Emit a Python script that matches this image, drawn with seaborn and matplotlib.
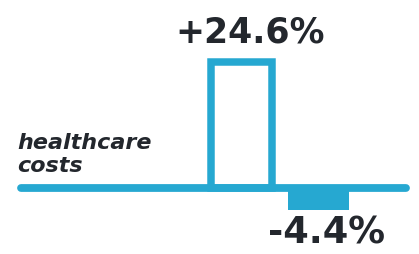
import matplotlib
matplotlib.use("Agg")
import matplotlib.pyplot as plt
import seaborn as sns
import pandas as pd

categories = ["increase", "decrease"]
values = [24.6, -4.4]
labels = ["+24.6%", "-4.4%"]
row_label = "healthcare\ncosts"

BLUE = "#26a8d1"
DARK = "#23272d"

sns.set_theme(style="white")
plt.rcParams["font.family"] = ["DejaVu Sans"]

fig = plt.figure(figsize=(4.19, 2.55), dpi=100)
ax = fig.add_axes([0, 0, 1, 1])

df = pd.DataFrame({"cat": categories, "val": values})
sns.barplot(data=df, x="cat", y="val", color=BLUE, width=0.78, ax=ax,
            saturation=1, errorbar=None)

# style bars: first outlined, second filled
p0, p1 = ax.patches[0], ax.patches[1]
p0.set_facecolor("white")
p0.set_edgecolor(BLUE)
p0.set_linewidth(5.4)
p0.set_joinstyle("miter")
p1.set_facecolor(BLUE)
p1.set_edgecolor("none")

ax.set_xlim(-3.136, 2.305)
ax.set_ylim(-13.0, 37.0)

# baseline
ax.axhline(0, xmin=0.049, xmax=0.970, color=BLUE, lw=5.6,
           solid_capstyle="round", zorder=5)

# value labels
ax.annotate(labels[0], xy=(0, values[0]), xytext=(6, 15),
            textcoords="offset points", ha="center", va="baseline",
            fontsize=25, fontweight="bold", color=DARK)
ax.annotate(labels[1], xy=(1, values[1]), xytext=(6, -23),
            textcoords="offset points", ha="center", va="baseline",
            fontsize=26.5, fontweight="bold", color=DARK)

# row label
ax.text(17 / 419, 1 - 172 / 255, row_label, transform=ax.transAxes,
        ha="left", va="baseline", fontsize=16, fontweight="bold",
        style="italic", color=DARK, linespacing=1.2)

ax.axis("off")
fig.savefig("out.png", dpi=100)
